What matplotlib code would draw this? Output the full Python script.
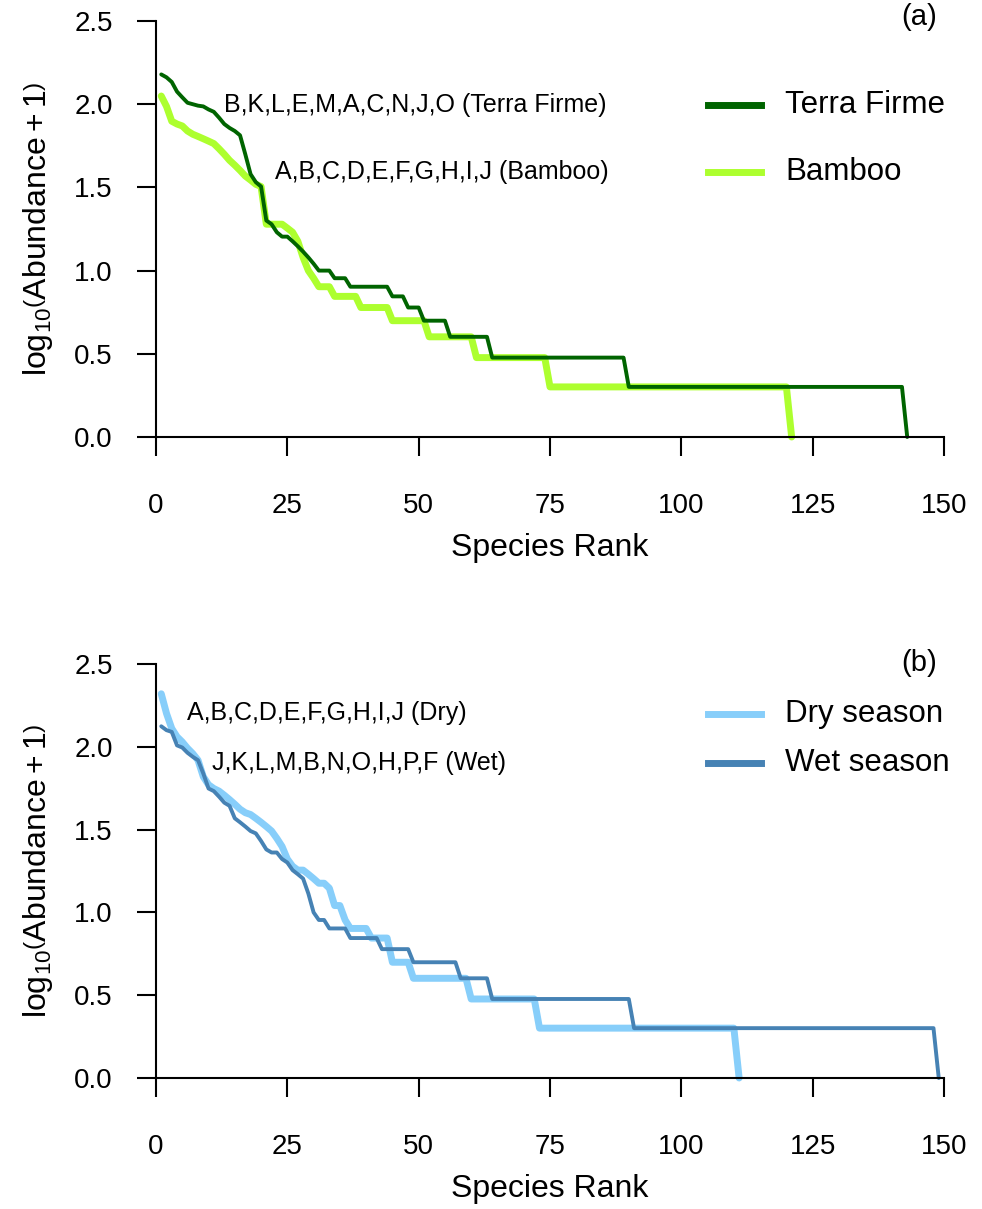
import numpy as np
import matplotlib
matplotlib.use("Agg")
from matplotlib import pyplot as plt
from matplotlib.lines import Line2D

plt.rcParams['font.family'] = ['Liberation Sans', 'DejaVu Sans']
plt.rcParams['mathtext.fontset'] = 'custom'
plt.rcParams['mathtext.rm'] = 'Liberation Sans'
plt.rcParams['mathtext.it'] = 'Liberation Sans'

# abundances of the top-ranked species, then runs of tied abundances in the tail
tf_top = [150, 144, 135, 118, 109, 101, 99, 97, 96, 92, 89, 82, 75, 71, 68,
          64, 49, 37, 33, 31, 19, 18, 16, 15, 15, 14, 13, 12, 11, 10]
tf_tail = [9, 8, 7, 6, 5, 4, 3, 2, 1, 0]
tf_tail_n = [3, 3, 8, 3, 3, 5, 8, 26, 53, 1]

bam_top = [111, 96, 78, 75, 73, 68, 65, 63, 61, 59, 57, 53, 49, 45, 42,
           39, 36, 34, 32, 31, 18, 18, 18, 18, 17, 16, 14, 11, 9, 8]
bam_tail = [7, 6, 5, 4, 3, 2, 1, 0]
bam_tail_n = [3, 5, 6, 7, 9, 14, 46, 1]

dry_top = [208, 158, 128, 114, 106, 97, 90, 82, 65, 58, 55, 53, 50, 47, 44,
           41, 39, 38, 36, 34, 32, 30, 27, 24, 20, 18, 17, 17, 16, 15,
           14, 14, 13, 10, 10]
dry_tail = [8, 7, 6, 4, 3, 2, 1, 0]
dry_tail_n = [1, 4, 4, 4, 11, 13, 38, 1]

wet_top = [132, 125, 122, 101, 98, 91, 86, 82, 68, 55, 53, 49, 45, 43, 36,
           34, 32, 30, 29, 26, 23, 22, 22, 20, 19, 17, 16, 15, 12, 9]
wet_tail = [8, 7, 6, 5, 4, 3, 2, 1, 0]
wet_tail_n = [2, 4, 6, 6, 9, 6, 27, 58, 1]

labels_a = ["Terra Firme", "Bamboo"]
labels_b = ["Dry season", "Wet season"]
top_a = ["B,K,L,E,M,A,C,N,J,O (Terra Firme)", "A,B,C,D,E,F,G,H,I,J (Bamboo)"]
top_b = ["A,B,C,D,E,F,G,H,I,J (Dry)", "J,K,L,M,B,N,O,H,P,F (Wet)"]


def curve(top, tail, counts):
    ab = np.concatenate([top, np.repeat(tail, counts)])
    return np.arange(1, len(ab) + 1), np.log10(ab + 1)


W, H = 982, 1209
fig = plt.figure(figsize=(W / 100, H / 100), dpi=100)


def fx(x):
    return x / W


def fy(y):
    return 1 - y / H


def make_axes(top, bottom):
    ax = fig.add_axes([fx(156), fy(bottom), fx(944) - fx(156), fy(top) - fy(bottom)])
    ax.set_xlim(0, 150)
    ax.set_ylim(0, 2.5)
    for s in ['top', 'right']:
        ax.spines[s].set_visible(False)
    for s in ['left', 'bottom']:
        ax.spines[s].set_linewidth(1.5)
    ax.spines['left'].set_bounds(0, 2.5)
    ax.spines['bottom'].set_bounds(0, 150)
    ax.set_xticks([0, 25, 50, 75, 100, 125, 150])
    ax.set_yticks([0, 0.5, 1.0, 1.5, 2.0, 2.5])
    ax.set_yticklabels(['0.0', '0.5', '1.0', '1.5', '2.0', '2.5'])
    ax.tick_params(axis='both', length=14, width=1.5, labelsize=20)
    ax.tick_params(axis='x', pad=26)
    ax.tick_params(axis='y', pad=17)
    ax.set_xlabel("Species Rank", fontsize=23)
    ax.xaxis.set_label_coords(0.5, -(111 / (bottom - top)))
    ax.xaxis.label.set_va('center')
    ax.set_ylabel(r'$\mathregular{log_{10}}\left(\mathregular{Abundance + 1}\right)$',
                  fontsize=23)
    ax.yaxis.set_label_coords(-(118 / 788), 0.5)
    ax.yaxis.label.set_va('center')
    return ax


# panel (a)
ax1 = make_axes(21, 437)
x, y = curve(bam_top, bam_tail, bam_tail_n)
ax1.plot(x, y, color='#ADFF2F', lw=5, clip_on=False,
         solid_joinstyle='round', solid_capstyle='round')
x, y = curve(tf_top, tf_tail, tf_tail_n)
ax1.plot(x, y, color='#006400', lw=2.8, clip_on=False,
         solid_joinstyle='round', solid_capstyle='round')

# panel (b)
ax2 = make_axes(664, 1078)
x, y = curve(dry_top, dry_tail, dry_tail_n)
ax2.plot(x, y, color='#87CEFA', lw=5, clip_on=False,
         solid_joinstyle='round', solid_capstyle='round')
x, y = curve(wet_top, wet_tail, wet_tail_n)
ax2.plot(x, y, color='#4682B4', lw=2.8, clip_on=False,
         solid_joinstyle='round', solid_capstyle='round')

# legends, panel letters and top-10 species notes
legend_rows = [(labels_a, ['#006400', '#ADFF2F'], [105, 172]),
               (labels_b, ['#87CEFA', '#4682B4'], [714, 763])]
for labs, cols, ys in legend_rows:
    for lab, col, yy in zip(labs, cols, ys):
        fig.add_artist(Line2D([fx(708), fx(761)], [fy(yy), fy(yy)], color=col, lw=5))
        fig.text(fx(785), fy(yy), lab, fontsize=22.5, va='center', ha='left')

fig.text(fx(937), fy(17), "(a)", fontsize=21, ha='right', va='center')
fig.text(fx(937), fy(663), "(b)", fontsize=21, ha='right', va='center')

fig.text(fx(224), fy(105), top_a[0], fontsize=18, va='center')
fig.text(fx(275), fy(172), top_a[1], fontsize=18, va='center')
fig.text(fx(187), fy(713), top_b[0], fontsize=18, va='center')
fig.text(fx(212), fy(763), top_b[1], fontsize=18, va='center')

fig.savefig("out.png", dpi=100)
